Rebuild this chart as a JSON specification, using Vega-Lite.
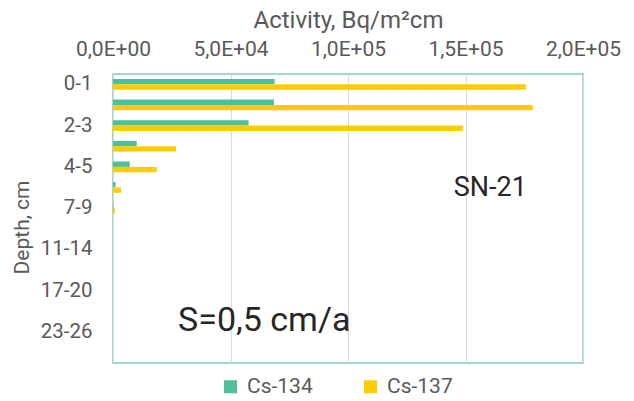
{
  "$schema": "https://vega.github.io/schema/vega-lite/v6.json",
  "width": 470,
  "height": 289,
  "autosize": {"type": "none"},
  "padding": {"left": 113, "top": 74, "right": 51, "bottom": 38},
  "config": {
    "font": "Roboto",
    "view": {"stroke": "#80cfb2", "strokeWidth": 1.5},
    "axis": {"domain": false, "ticks": false, "labelColor": "#595959", "titleColor": "#595959", "titleFontWeight": "normal"}
  },
  "layer": [
    {
      "data": {
        "values": [
          {"depth": "0-1", "isotope": "Cs-134", "activity": 68800},
          {"depth": "0-1", "isotope": "Cs-137", "activity": 175700},
          {"depth": "1-2", "isotope": "Cs-134", "activity": 68500},
          {"depth": "1-2", "isotope": "Cs-137", "activity": 178600},
          {"depth": "2-3", "isotope": "Cs-134", "activity": 57700},
          {"depth": "2-3", "isotope": "Cs-137", "activity": 148900},
          {"depth": "3-4", "isotope": "Cs-134", "activity": 10100},
          {"depth": "3-4", "isotope": "Cs-137", "activity": 26800},
          {"depth": "4-5", "isotope": "Cs-134", "activity": 7100},
          {"depth": "4-5", "isotope": "Cs-137", "activity": 18600},
          {"depth": "5-7", "isotope": "Cs-134", "activity": 1100},
          {"depth": "5-7", "isotope": "Cs-137", "activity": 3400},
          {"depth": "7-9", "isotope": "Cs-134", "activity": 200},
          {"depth": "7-9", "isotope": "Cs-137", "activity": 850},
          {"depth": "9-11", "isotope": "Cs-134", "activity": 0},
          {"depth": "9-11", "isotope": "Cs-137", "activity": 0},
          {"depth": "11-14", "isotope": "Cs-134", "activity": 0},
          {"depth": "11-14", "isotope": "Cs-137", "activity": 0},
          {"depth": "14-17", "isotope": "Cs-134", "activity": 0},
          {"depth": "14-17", "isotope": "Cs-137", "activity": 0},
          {"depth": "17-20", "isotope": "Cs-134", "activity": 0},
          {"depth": "17-20", "isotope": "Cs-137", "activity": 0},
          {"depth": "20-23", "isotope": "Cs-134", "activity": 0},
          {"depth": "20-23", "isotope": "Cs-137", "activity": 0},
          {"depth": "23-26", "isotope": "Cs-134", "activity": 0},
          {"depth": "23-26", "isotope": "Cs-137", "activity": 0},
          {"depth": "26-29", "isotope": "Cs-134", "activity": 0},
          {"depth": "26-29", "isotope": "Cs-137", "activity": 0}
        ]
      },
      "mark": {"type": "bar"},
      "encoding": {
        "y": {
          "field": "depth", "type": "nominal",
          "sort": ["0-1","1-2","2-3","3-4","4-5","5-7","7-9","9-11","11-14","14-17","17-20","20-23","23-26","26-29"],
          "scale": {"domain": ["0-1","1-2","2-3","3-4","4-5","5-7","7-9","9-11","11-14","14-17","17-20","20-23","23-26","26-29"], "paddingInner": 0.48, "paddingOuter": 0.24},
          "axis": {
            "values": ["0-1","2-3","4-5","7-9","11-14","17-20","23-26"],
            "title": "Depth, cm", "titleFontSize": 21, "titlePadding": 8, "titleY": 153,
            "labelFontSize": 20.5, "labelPadding": 21, "grid": false
          }
        },
        "yOffset": {"field": "isotope", "type": "nominal", "sort": ["Cs-134", "Cs-137"]},
        "x": {
          "field": "activity", "type": "quantitative",
          "scale": {"domain": [0, 200000], "nice": false},
          "axis": {
            "orient": "top",
            "values": [0, 50000, 100000, 150000, 200000],
            "labelExpr": "replace(replace(format(datum.value, '.1e'), '.', ','), 'e+', 'E+0')",
            "labelFlush": false, "labelOverlap": false,
            "labelFontSize": 21, "labelPadding": 15,
            "title": "Activity, Bq/m²cm", "titleFontSize": 24, "titlePadding": 6,
            "grid": true, "gridColor": "#d9d9d9"
          }
        },
        "color": {
          "field": "isotope", "type": "nominal",
          "scale": {"domain": ["Cs-134", "Cs-137"], "range": ["#50BE96", "#FFCC00"]},
          "legend": {
            "title": null, "orient": "none", "direction": "horizontal",
            "legendX": 107, "legendY": 302, "padding": 0,
            "symbolType": "square", "symbolSize": 169, "symbolStrokeWidth": 0,
            "labelFontSize": 21, "labelColor": "#595959", "labelOffset": 6,
            "columnPadding": 47
          }
        }
      }
    },
    {
      "data": {"values": [{"label": "SN-21", "x": 145000, "depth": "5-7"}]},
      "mark": {"type": "text", "align": "left", "baseline": "middle", "fontSize": 27, "color": "#262626"},
      "encoding": {
        "x": {"field": "x", "type": "quantitative"},
        "y": {"field": "depth", "type": "nominal"},
        "text": {"field": "label"}
      }
    },
    {
      "data": {"values": [{"label": "S=0,5 cm/a", "x": 27700, "depth": "20-23"}]},
      "mark": {"type": "text", "align": "left", "baseline": "middle", "fontSize": 34, "color": "#262626", "dy": 10},
      "encoding": {
        "x": {"field": "x", "type": "quantitative"},
        "y": {"field": "depth", "type": "nominal"},
        "text": {"field": "label"}
      }
    }
  ]
}
